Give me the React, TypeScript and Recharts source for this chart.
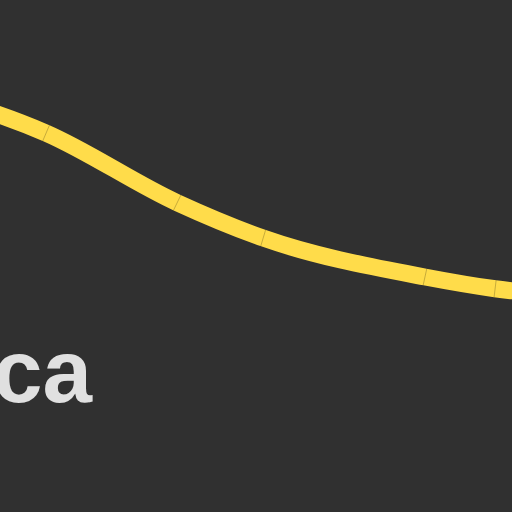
import { Line, LineChart, XAxis, YAxis } from "recharts";

// position along the x axis (0-100 is the visible part) and value
const positions = [-19.5, 9.0, 34.6, 51.4, 83.0, 96.7, 117.2];
const values = [83.4, 74.0, 60.4, 53.5, 45.9, 43.6, 41.8];
const title = "Africa";

const data = positions.map((t, i) => ({ t, v: values[i] }));

const W = 512;
const H = 512;

// thin joint mark across the thick line at each data point
function Seam(props: any) {
  const { cx, cy, index } = props;
  if (cx == null || cy == null) return <g key={`seam-${index}`} />;
  const a = Math.max(index - 1, 0);
  const b = Math.min(index + 1, data.length - 1);
  const dx = ((positions[b] - positions[a]) * W) / 100;
  const dy = (-(values[b] - values[a]) * H) / 100;
  const len = Math.hypot(dx, dy) || 1;
  const nx = (-dy / len) * 8.5;
  const ny = (dx / len) * 8.5;
  return (
    <line
      key={`seam-${index}`}
      x1={cx - nx}
      y1={cy - ny}
      x2={cx + nx}
      y2={cy + ny}
      stroke="rgba(0,0,0,0.22)"
      strokeWidth={1}
    />
  );
}

export default function App() {
  return (
    <div
      style={{
        position: "absolute",
        top: 0,
        left: 0,
        width: W,
        height: H,
        background: "#303030",
        overflow: "hidden",
      }}
    >
      <LineChart width={W} height={H} data={data} margin={{ top: 0, right: 0, bottom: 0, left: 0 }}>
        <XAxis dataKey="t" type="number" domain={[0, 100]} allowDataOverflow hide />
        <YAxis type="number" domain={[0, 100]} allowDataOverflow hide />
        <Line
          type="monotone"
          dataKey="v"
          stroke="#FFDC4A"
          strokeWidth={17}
          dot={Seam}
          activeDot={false}
          isAnimationActive={false}
        />
      </LineChart>
      <svg width={W} height={H} style={{ position: "absolute", top: 0, left: 0 }}>
        <text
          x={92}
          y={402}
          textAnchor="end"
          fontFamily="'Liberation Sans', Arial, sans-serif"
          fontWeight="bold"
          fontSize={89}
          fill="#E0E0E0"
        >
          {title}
        </text>
      </svg>
    </div>
  );
}
